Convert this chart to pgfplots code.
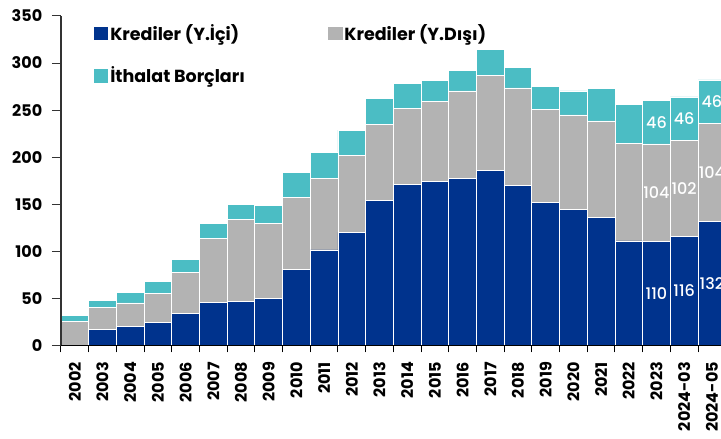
\documentclass[border=0pt]{standalone}
\usepackage{pgfplots}
\usepackage{pgfplotstable}
\pgfplotsset{compat=1.18}
\usepackage{fontspec}
\setmainfont{Poppins}
\newfontfamily\pmed{Poppins Medium}
\definecolor{navy}{HTML}{00338D}
\definecolor{gry}{HTML}{B3B3B3}
\definecolor{tl}{HTML}{4BBDC4}
\pgfplotstableread{
x b g t lb lg lt
0 0 25 7 {} {} {}
1 17 23 8 {} {} {}
2 20 25 11 {} {} {}
3 24.5 30.5 12.4 {} {} {}
4 34 43 14.5 {} {} {}
5 45.3 68.7 15.7 {} {} {}
6 47 87 16 {} {} {}
7 50 79.7 19.1 {} {} {}
8 80.4 76.5 27 {} {} {}
9 101.3 76.2 27.2 {} {} {}
10 120.1 81.4 27.3 {} {} {}
11 154.1 81.1 26.9 {} {} {}
12 171.4 80.1 26.5 {} {} {}
13 174.6 84.3 22.7 {} {} {}
14 177.8 92.5 22.3 {} {} {}
15 186 100.5 28.1 {} {} {}
16 170 103.5 22 {} {} {}
17 152.3 98.8 23.8 {} {} {}
18 144.5 100.3 25.5 {} {} {}
19 136 102.4 34.7 {} {} {}
20 110.9 103.4 41.4 {} {} {}
21 110 104 46 110 104 46
22 116 102 46 116 102 46
23 132 104 46 132 104 46
}\data
\begin{document}
\fontsize{16}{19}\selectfont
\begin{tikzpicture}
\begin{axis}[
  at={(61pt,93.7pt)}, anchor=south west,
  scale only axis, width=664.7pt, height=329.3pt,
  ybar stacked, bar width=27.7pt,
  xmin=-0.5, xmax=23.5, ymin=0, ymax=350,
  clip=false, axis on top,
  axis x line*=bottom, axis y line*=left,
  x axis line style={black, line width=1.2pt, -},
  y axis line style={black!80, line width=1.5pt, -},
  tick align=outside,
  xtick={-0.5,0.5,...,23.5},
  x tick label as interval,
  xticklabels={2002,2003,2004,2005,2006,2007,2008,2009,2010,2011,2012,2013,2014,2015,2016,2017,2018,2019,2020,2021,2022,2023,2024-03,2024-05},
  xtick style={draw=black, line width=1pt, /pgfplots/major tick length=7pt},
  ytick={0,50,...,350},
  ytick style={draw=black!80, line width=1pt, /pgfplots/major tick length=9pt},
  /pgf/number format/assume math mode=true,
  ticklabel style={font=\fontsize{16}{19}\selectfont\bfseries},
  xticklabel style={rotate=90, anchor=east},
  xticklabel shift=7pt,
  yticklabel shift=9pt,
  legend style={draw=none, fill=none, at={(0.0496,0.981)}, anchor=north west,
    inner sep=0pt, row sep=20pt,
    font=\fontsize{17.5}{20}\selectfont\bfseries},
  legend columns=2,
  legend cell align=left,
  point meta=explicit symbolic,
  nodes near coords,
  every node near coord/.append style={white, anchor=center,
    font=\pmed\fontsize{16}{19}\selectfont},
]
\addplot[fill=navy, draw=white, line width=0.8pt,
  legend image code/.code={\fill[navy] (0pt,-6.2pt) rectangle (13.3pt,6.2pt);}]
  table[x=x, y=b, meta=lb]{\data};
\addlegendentry{\makebox[216pt][l]{Krediler (Y.İçi)}}
\addplot[fill=gry, draw=white, line width=0.8pt,
  legend image code/.code={\fill[gry] (0pt,-6.2pt) rectangle (13.3pt,6.2pt);}]
  table[x=x, y=g, meta=lg]{\data};
\addlegendentry{Krediler (Y.Dışı)}
\addplot[fill=tl, draw=white, line width=0.8pt,
  legend image code/.code={\fill[tl] (0pt,-6.2pt) rectangle (13.3pt,6.2pt);}]
  table[x=x, y=t, meta=lt]{\data};
\addlegendentry{İthalat Borçları}
\end{axis}
\pgfresetboundingbox
\path[use as bounding box] (0,0) rectangle (721pt,439pt);
\end{tikzpicture}
\end{document}
